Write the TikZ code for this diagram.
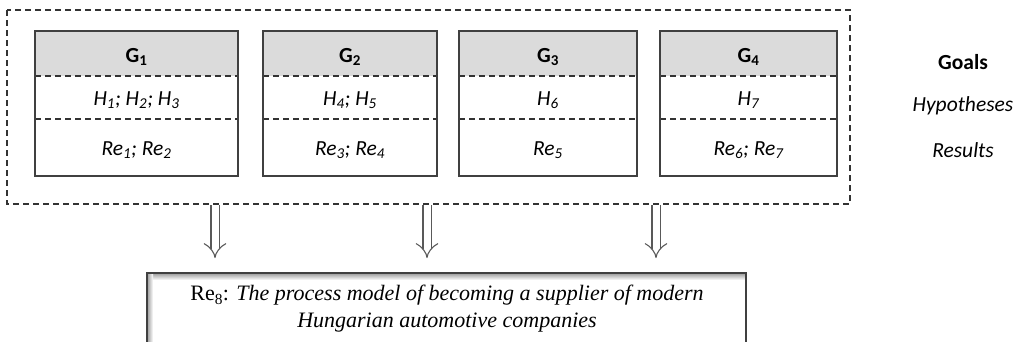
\documentclass[tikz,border=0pt]{standalone}
\usepackage{fontspec}
\setmainfont{Carlito}
\newfontfamily\resfont{Liberation Serif}
\usetikzlibrary{arrows.meta}

\tikzset{
  cell/.style={draw=none, inner sep=0pt},
  sep/.style={dash pattern=on 6pt off 4pt, line width=1.1pt, black!80},
  box/.style={line width=1.4pt, black!75},
  down/.style={double=white, double distance=7pt, line width=1.1pt, black!65, -{Implies}}
}

\begin{document}
\begin{tikzpicture}[x=1pt, y=-1pt, font=\fontsize{21.5}{26}\selectfont]
   \useasboundingbox (0,0) rectangle (1021,341);
   \draw [sep] (7,10) rectangle (850,204);

   \foreach \l/\r/\g/\h/\re [count=\i] in {
      35/238/{G\textsubscript{1}}/{H\textsubscript{1}; H\textsubscript{2}; H\textsubscript{3}}/{Re\textsubscript{1}; Re\textsubscript{2}},
      263/437/{G\textsubscript{2}}/{H\textsubscript{4}; H\textsubscript{5}}/{Re\textsubscript{3}; Re\textsubscript{4}},
      459/637/{G\textsubscript{3}}/{H\textsubscript{6}}/{Re\textsubscript{5}},
      660/837/{G\textsubscript{4}}/{H\textsubscript{7}}/{Re\textsubscript{6}; Re\textsubscript{7}}} {
      \fill [gray!28] (\l,31) rectangle (\r,76);
      \draw [sep] (\l,76) -- (\r,76);
      \draw [sep] (\l,119) -- (\r,119);
      \draw [box] (\l,31) rectangle (\r,176);
      \node [cell] (g\i) at ({(\l+\r)/2},57) {\textbf{\g}};
      \node [cell] (h\i) at ({(\l+\r)/2},100) {\textit{\h}};
      \node [cell] (r\i) at ({(\l+\r)/2},150) {\textit{\re}};
   }

   \node [cell] (goals) at (963,62) {\textbf{Goals}};
   \node [cell] (hyp) at (963,106) {\textit{Hypotheses}};
   \node [cell] (res) at (963,150) {\textit{Results}};

   % final result
   \shade [top color=gray!80, bottom color=white] (147,273) rectangle (746,280);
   \shade [left color=gray!80, right color=white] (147,273) rectangle (153,345);
   \draw [box, line width=1.8pt] (147,273) rectangle (746,360);
   \node [cell, align=center, font=\resfont\fontsize{22}{27}\selectfont] (re8) at (447,309)
      {Re\textsubscript{8}: \textit{The process model of becoming a supplier of modern}\\
       \textit{Hungarian automotive companies}};

   \foreach \x [count=\i] in {215,427,656} {
      \coordinate (top\i) at (\x,205);
      \coordinate (bot\i) at (\x,258);
      \draw [down] (top\i) -- (bot\i);
   }
\end{tikzpicture}
\end{document}
